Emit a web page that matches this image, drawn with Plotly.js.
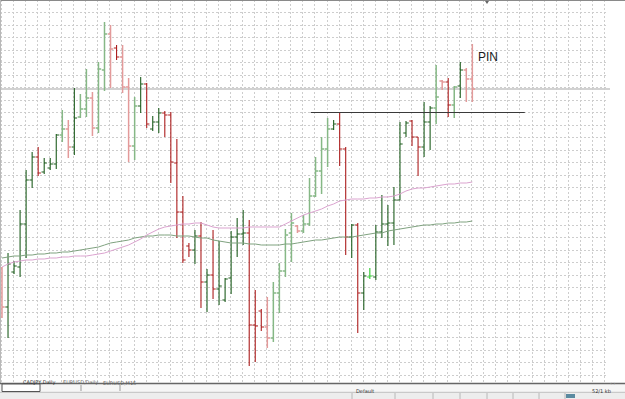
<!DOCTYPE html>
<html>
<head>
<meta charset="utf-8">
<script src="https://cdn.plot.ly/plotly-3.0.1.min.js"></script>
<style>
html,body{margin:0;padding:0;background:#fff;}
#chart{width:625px;height:399px;}
</style>
</head>
<body>
<div id="chart"></div>
<script>
// ---- data (arbitrary price units) ----
const barIndex = Array.from({length: 79}, (_, i) => i);
const openV = [132,93,128,133,176,220,243,228,232,236, 265,271,253,283,291,302,272,330,366,352,
  343,313,254,294,316,271,278,287,285,237, 188,154,150,164,118,125,111,100,122,163,
  166,167,75,89,73,62,107,129,167,174, 169,176,204,229,251,271,276,251,163,175,
  107,123,123,168,176,177,200,267,279,263, 253,278,292,319,318,295,314,330,321];
const highV = [133,147,139,190,230,248,253,242,242,266, 290,280,312,306,331,308,338,378,375,355,
  355,322,303,323,317,284,292,289,288,261, 204,157,170,178,131,170,159,122,169,182,
  190,180,110,91,103,118,137,171,187,175, 185,222,243,263,282,280,288,253,176,177,
  128,132,175,205,195,213,278,279,280,263, 298,294,335,320,322,314,338,332,356];
const lowV = [82,62,126,123,142,212,224,226,230,231, 258,242,245,282,283,264,267,309,312,340,
  307,238,240,287,272,269,267,263,217,162, 137,143,136,92,88,101,95,98,106,143,
  155,34,38,69,52,58,87,123,138,167, 167,174,203,206,233,270,234,145,142,67,
  90,121,120,162,154,155,200,263,254,224, 243,250,276,310,283,282,302,298,298];
const closeV = [93,136,134,176,220,243,227,237,236,265, 271,253,282,291,302,272,331,366,351,343,
  313,254,294,316,276,278,287,285,238,188, 140,150,164,118,125,111,114,121,163,166,
  167,75,74,73,62,107,129,165,177,169, 176,204,229,251,271,276,251,163,175,107,
  124,124,168,176,177,200,256,277,263,253, 278,292,303,318,295,313,330,321,311];
const maFast = [133,136,138,139,140,140,141,141,142,142, 143,143,144,144,144,145,146,147,149,151,
  153,155,158,161,165,168,171,173,174,175, 176,176,177,177,175,173,172,172,172,172,
  172,173,173,173,173,173,173,176,179,182, 185,187,189,191,194,196,199,200,201,201,
  201,202,202,203,203,204,206,209,211,212, 212,213,214,215,216,216,217,217,218];
const maSlow = [142,143,144,144,145,145,146,146,147,147, 148,148,149,150,151,152,153,155,157,158,
  159,160,162,163,164,164,165,165,165,164, 164,164,163,162,162,160,159,158,157,157,
  157,156,156,155,155,155,155,156,156,157, 158,159,160,160,161,162,163,163,163,164,
  165,166,167,167,169,170,171,172,173,174, 175,175,176,176,177,177,178,178,179];
const levelLineX = [51.2, 86.7];
const levelLinePrice = 287.5;
const pinLabel = {text: 'PIN', x: 78.6, y: 343};
const tabLabels = ['CADJPY,Daily', 'EURUSD,Daily', 'EURUSD,M15'];
const statusLabels = ['Default', '52/1 kb'];

// ---- styles (kept apart from data) ----
const barTone = ['l','d','d','d','d','d','d','d','d','d', 'l','l','d','l','l','l','l','l','l','d',
  'l','l','l','d','d','d','d','d','d','d', 'd','d','d','d','d','d','d','d','d','d',
  'd','d','d','d','l','l','l','l','l','l', 'l','l','l','l','l','d','d','d','d','d',
  'd','b','d','d','d','d','d','d','d','d', 'd','d','l','l','d','l','d','l','l'];
const toneStyle = {
  d: {up: '#1f5e1f', down: '#ad1f1f', w: 1.1},
  l: {up: '#86b886', down: '#e39a9a', w: 1.5},
  b: {up: '#3ccf3c', down: '#3ccf3c', w: 1.2}
};

const traces = [];
traces.push({type:'scatter', mode:'lines', x: barIndex, y: maSlow, line:{color:'#7fa27f', width:1}, hoverinfo:'skip'});
traces.push({type:'scatter', mode:'lines', x: barIndex, y: maFast, line:{color:'#dba3cf', width:1}, hoverinfo:'skip'});

['l','d','b'].forEach(t => {
  const idx = barIndex.filter(i => barTone[i] === t);
  const s = toneStyle[t];
  traces.push({
    type:'ohlc',
    x: idx, open: idx.map(i=>openV[i]), high: idx.map(i=>highV[i]),
    low: idx.map(i=>lowV[i]), close: idx.map(i=>closeV[i]),
    tickwidth: 0.45,
    increasing: {line:{color:s.up, width:s.w}},
    decreasing: {line:{color:s.down, width:s.w}},
    hoverinfo:'skip'
  });
});

traces.push({type:'scatter', mode:'lines', x: levelLineX, y: [levelLinePrice, levelLinePrice],
  line:{color:'#3a3a3a', width:1}, hoverinfo:'skip'});

// ---- chrome helpers (pixel -> paper) ----
const PW = 608, PH = 383;
const px = x => x / PW;
const py = y => (PH - y) / PH;

const shapes = [
  {type:'line', xref:'paper', yref:'y', x0:0, x1:px(610), y0:closeV[closeV.length-1], y1:closeV[closeV.length-1],
   line:{color:'#d2d2d2', width:2}, layer:'below'},
  {type:'line', xref:'paper', yref:'paper', x0:0, x1:px(625), y0:py(0.5), y1:py(0.5), line:{color:'#8a8a8a', width:1}},
  {type:'line', xref:'paper', yref:'paper', x0:px(0.5), x1:px(0.5), y0:py(0), y1:py(383), line:{color:'#b8b8b8', width:1}},
  {type:'rect', xref:'paper', yref:'paper', x0:0, x1:px(625), y0:py(383), y1:py(392), fillcolor:'#f6f6f6', line:{width:0}},
  {type:'rect', xref:'paper', yref:'paper', x0:0, x1:px(625), y0:py(392), y1:py(399), fillcolor:'#ededed', line:{width:0}},
  {type:'line', xref:'paper', yref:'paper', x0:0, x1:px(625), y0:py(383.5), y1:py(383.5), line:{color:'#666666', width:1.5}},
  {type:'line', xref:'paper', yref:'paper', x0:0, x1:px(625), y0:py(392.3), y1:py(392.3), line:{color:'#c0c0c0', width:1}},
  {type:'rect', xref:'paper', yref:'paper', x0:px(2), x1:px(40), y0:py(391.5), y1:py(384), fillcolor:'#ffffff', line:{color:'#555', width:1}},
  {type:'line', xref:'paper', yref:'paper', x0:px(81), x1:px(81), y0:py(385), y1:py(391), line:{color:'#9a9a9a', width:1}},
  {type:'line', xref:'paper', yref:'paper', x0:px(120), x1:px(120), y0:py(385), y1:py(391), line:{color:'#9a9a9a', width:1}},
  {type:'rect', xref:'paper', yref:'paper', x0:px(566), x1:px(575), y0:py(398), y1:py(394), fillcolor:'#5b8aa0', line:{width:0}},
  {type:'path', xref:'paper', yref:'paper',
   path:`M ${px(485)} ${py(1)} L ${px(489)} ${py(1)} L ${px(487)} ${py(4)} Z`, fillcolor:'#666', line:{width:0}}
];
[352,395,433,460,487,513,539,565].forEach(x => shapes.push(
  {type:'line', xref:'paper', yref:'paper', x0:px(x), x1:px(x), y0:py(393), y1:py(399), line:{color:'#b8b8b8', width:1}}));

const small = {family:'DejaVu Sans, sans-serif', size:5, color:'#333'};
const annotations = [
  {text: pinLabel.text, x: pinLabel.x, y: pinLabel.y, xref:'x', yref:'y', xanchor:'left', yanchor:'middle',
   showarrow:false, font:{family:'Liberation Sans, Arial, sans-serif', size:12, color:'#1a1a1a'}},
  {text: tabLabels[0], x: px(21), y: py(388), xref:'paper', yref:'paper', showarrow:false, font: small},
  {text: tabLabels[1], x: px(61), y: py(388), xref:'paper', yref:'paper', showarrow:false, font: {...small, color:'#666'}},
  {text: tabLabels[2], x: px(101), y: py(388), xref:'paper', yref:'paper', showarrow:false, font: {...small, color:'#666'}},
  {text: statusLabels[0], x: px(354), y: py(396.3), xref:'paper', yref:'paper', xanchor:'left', showarrow:false, font: small},
  {text: statusLabels[1], x: px(590), y: py(396.3), xref:'paper', yref:'paper', xanchor:'left', showarrow:false, font: small},
  {text: '‹ ›', x: px(618), y: py(388), xref:'paper', yref:'paper', showarrow:false, font: {...small, color:'#999'}}
];

const layout = {
  width: 625, height: 399,
  margin: {l:0, r:17, t:0, b:16, pad:0},
  paper_bgcolor:'#ffffff', plot_bgcolor:'#ffffff',
  showlegend:false,
  xaxis: {range:[-0.33, 100.5], showgrid:true, gridcolor:'#cdcdcd', griddash:'2px,2px', gridwidth:1,
          tick0:1.9, dtick:2, showticklabels:false, ticks:'', zeroline:false, showline:false,
          rangeslider:{visible:false}, fixedrange:true},
  yaxis: {range:[17, 400], showgrid:true, gridcolor:'#cdcdcd', griddash:'2px,2px', gridwidth:1,
          tick0:400, dtick:12.5, showticklabels:false, ticks:'', zeroline:false, showline:false, fixedrange:true},
  shapes: shapes,
  annotations: annotations
};

Plotly.newPlot('chart', traces, layout, {displayModeBar:false, staticPlot:true});
</script>
</body>
</html>
